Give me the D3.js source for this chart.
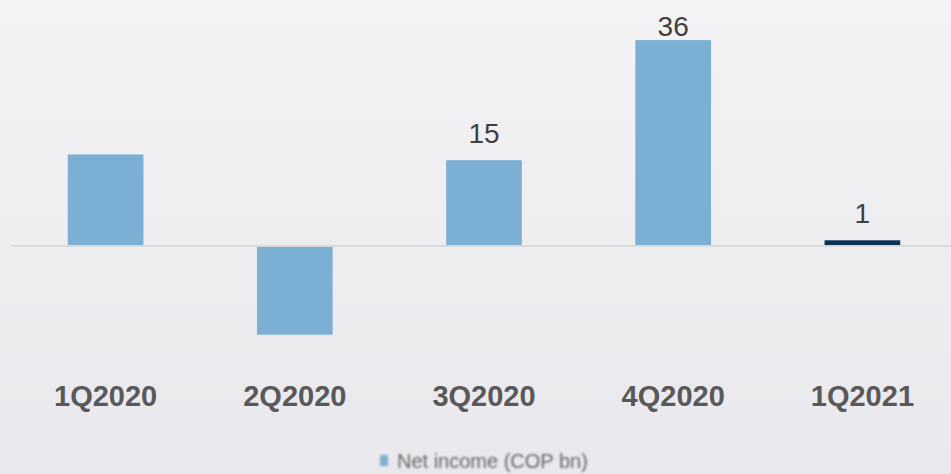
<!DOCTYPE html>
<html>
<head>
<meta charset="utf-8">
<script src="https://cdn.jsdelivr.net/npm/d3@7"></script>
<style>
  html, body { margin: 0; padding: 0; }
  body { width: 951px; height: 474px; overflow: hidden; }
  svg { display: block; font-family: "Liberation Sans", Arial, sans-serif; }
</style>
</head>
<body>
<svg id="chart" width="951" height="474"></svg>
<script>
// Quarterly net income, COP billions
const quarters = ["1Q2020", "2Q2020", "3Q2020", "4Q2020", "1Q2021"];
const netIncome = [16, -15.5, 15, 36, 1];
const valueLabels = [null, null, "15", "36", "1"];
const barColors = ["#7bafd4", "#7bafd4", "#7bafd4", "#7bafd4", "#0b3157"];
const legendLabel = "Net income (COP bn)";

const W = 951, H = 474;
const svg = d3.select("#chart");

// soft vertical background gradient
const defs = svg.append("defs");
const grad = defs.append("linearGradient")
  .attr("id", "bg").attr("x1", 0).attr("y1", 0).attr("x2", 0).attr("y2", 1);
grad.append("stop").attr("offset", "0%").attr("stop-color", "#f3f3f5");
grad.append("stop").attr("offset", "100%").attr("stop-color", "#e9e8ec");
defs.append("filter").attr("id", "soft")
  .append("feGaussianBlur").attr("stdDeviation", 0.8);

svg.append("rect").attr("width", W).attr("height", H).attr("fill", "url(#bg)");

const x = d3.scaleBand()
  .domain(quarters)
  .range([11, 957])
  .paddingInner(0.6)
  .paddingOuter(0.3);

const y = d3.scaleLinear()
  .domain([-25, 40])
  .range([246 + 25 * 5.72, 246 - 40 * 5.72]);

const data = quarters.map((q, i) => ({
  q, v: netIncome[i], label: valueLabels[i], color: barColors[i]
}));

// bars
svg.append("g").selectAll("rect")
  .data(data)
  .join("rect")
  .attr("x", d => x(d.q))
  .attr("width", x.bandwidth())
  .attr("y", d => d.v >= 0 ? y(d.v) : y(0) + 1)
  .attr("height", d => d.v >= 0 ? y(0) - y(d.v) : y(d.v) - y(0) - 1)
  .attr("fill", d => d.color);

// zero line
svg.append("line")
  .attr("x1", 11).attr("x2", W)
  .attr("y1", y(0)).attr("y2", y(0))
  .attr("stroke", "#d9d9d9").attr("stroke-width", 2);

// value labels above bars
svg.append("g").selectAll("text")
  .data(data.filter(d => d.label !== null))
  .join("text")
  .attr("x", d => x(d.q) + x.bandwidth() / 2)
  .attr("y", d => Math.max(y(d.v) - 17, 36))
  .attr("text-anchor", "middle")
  .attr("font-size", 28)
  .attr("fill", "#404040")
  .text(d => d.label);

// category axis labels
const xAxis = d3.axisBottom(x).tickSize(0).tickPadding(0);
const gx = svg.append("g").attr("transform", "translate(0,374)").call(xAxis);
gx.select(".domain").remove();
gx.selectAll("text")
  .attr("dy", 0)
  .attr("y", 32)
  .attr("font-family", "Liberation Sans, Arial, sans-serif")
  .attr("font-size", 29)
  .attr("font-weight", "bold")
  .attr("fill", "#595959");

// legend
const lg = svg.append("g").attr("filter", "url(#soft)");
lg.append("rect")
  .attr("x", 380).attr("y", 455).attr("width", 8).attr("height", 11)
  .attr("fill", "#7bafd4");
lg.append("text")
  .attr("x", 397).attr("y", 468)
  .attr("font-size", 20)
  .attr("fill", "#666666")
  .text(legendLabel);
</script>
</body>
</html>
